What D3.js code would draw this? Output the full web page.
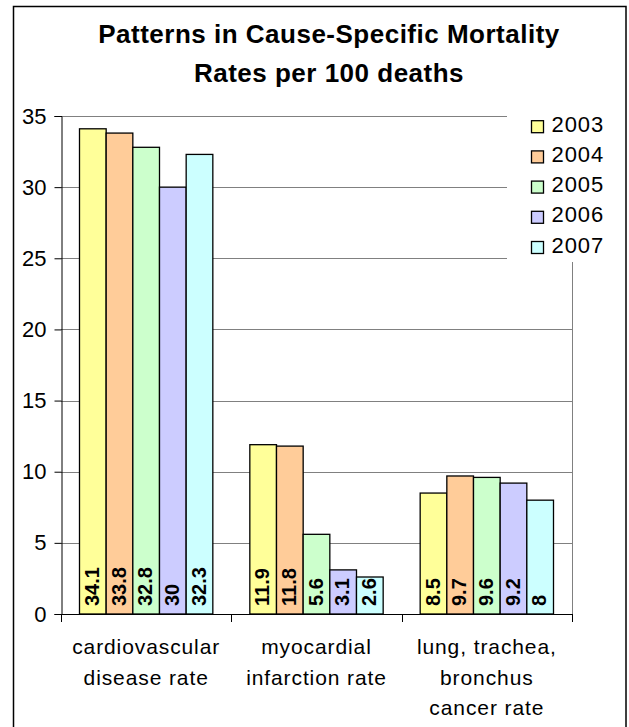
<!DOCTYPE html>
<html>
<head>
<meta charset="utf-8">
<script src="https://cdn.jsdelivr.net/npm/d3@7"></script>
<style>
html,body{margin:0;padding:0;background:#fff;}
svg{display:block;font-family:Arial,"Liberation Sans",sans-serif;}
</style>
</head>
<body>
<svg id="chart" width="629" height="727"></svg>
<script>
const titleLines = ["Patterns in Cause-Specific Mortality", "Rates per 100 deaths"];
const categories = [
  ["cardiovascular", "disease rate"],
  ["myocardial", "infarction rate"],
  ["lung, trachea,", "bronchus", "cancer rate"]
];
const years = ["2003", "2004", "2005", "2006", "2007"];
const colors = ["#FFFF99", "#FFCC99", "#CCFFCC", "#CCCCFF", "#CCFFFF"];
const v2003 = [34.1, 11.9, 8.5];
const v2004 = [33.8, 11.8, 9.7];
const v2005 = [32.8, 5.6, 9.6];
const v2006 = [30, 3.1, 9.2];
const v2007 = [32.3, 2.6, 8];
const yTicks = [0, 5, 10, 15, 20, 25, 30, 35];

const series = [v2003, v2004, v2005, v2006, v2007];
const svg = d3.select("#chart");

// outer frame
svg.append("rect").attr("x", 13.5).attr("y", 6.5).attr("width", 612.5).attr("height", 760)
  .attr("fill", "#fff").attr("stroke", "#000").attr("stroke-width", 1.5);

// title
svg.append("g").selectAll("text").data(titleLines).join("text")
  .attr("x", 329).attr("y", (d, i) => 43 + i * 38.5)
  .attr("text-anchor", "middle").attr("font-weight", "bold").attr("font-size", 26)
  .attr("letter-spacing", 0.5)
  .attr("fill", "#000").text(d => d);

const L = 61, R = 572, T = 116, B = 614;
const x = d3.scaleBand().domain(d3.range(categories.length)).range([L, R]).padding(0);
const off = 18.5;
const xi = d3.scaleBand().domain(d3.range(years.length)).range([off, x.bandwidth() - off]).padding(0);
const y = d3.scaleLinear().domain([0, 35]).range([B, T]);

// gridlines
svg.append("g").selectAll("line").data(yTicks.filter(t => t > 0)).join("line")
  .attr("x1", L).attr("x2", R).attr("y1", d => Math.round(y(d)) + 0.5).attr("y2", d => Math.round(y(d)) + 0.5)
  .attr("stroke", "#808080").attr("stroke-width", 1);
// plot right border
svg.append("line").attr("x1", R + 0.5).attr("x2", R + 0.5).attr("y1", T).attr("y2", B)
  .attr("stroke", "#808080").attr("stroke-width", 1);

// bars
const groups = svg.append("g").selectAll("g").data(categories).join("g")
  .attr("transform", (d, i) => `translate(${x(i)},0)`);
groups.each(function (c, ci) {
  const g = d3.select(this);
  series.forEach((s, si) => {
    g.append("rect")
      .attr("x", xi(si)).attr("y", y(s[ci]))
      .attr("width", xi.bandwidth()).attr("height", B - y(s[ci]))
      .attr("fill", colors[si]).attr("stroke", "#000").attr("stroke-width", 1.3);
  });
});

// data labels
groups.each(function (c, ci) {
  const g = d3.select(this);
  series.forEach((s, si) => {
    const cx = xi(si) + xi.bandwidth() / 2;
    g.append("text")
      .attr("transform", `translate(${cx + 6},${B - 8}) rotate(-90)`)
      .attr("text-anchor", "start").attr("font-weight", "bold").attr("font-size", 20)
      .attr("fill", "#000").text(String(s[ci]));
  });
});

// y axis
const yAxis = svg.append("g").attr("transform", `translate(${L + 0.5},0)`)
  .call(d3.axisLeft(y).tickValues(yTicks).tickSize(7).tickPadding(8).tickFormat(d3.format("d")));
yAxis.select(".domain").attr("stroke", "#000").attr("stroke-width", 1);
yAxis.selectAll(".tick line").attr("stroke", "#000");
yAxis.selectAll(".tick text").attr("font-size", 22).attr("font-family", "Arial, 'Liberation Sans', sans-serif").attr("fill", "#000");

// x axis
svg.append("line").attr("x1", L).attr("x2", R + 1).attr("y1", B + 0.5).attr("y2", B + 0.5)
  .attr("stroke", "#000").attr("stroke-width", 1);
svg.append("g").selectAll("line").data(d3.range(categories.length + 1)).join("line")
  .attr("x1", d => Math.round(L + d * x.bandwidth()) + 0.5).attr("x2", d => Math.round(L + d * x.bandwidth()) + 0.5)
  .attr("y1", B).attr("y2", B + 8).attr("stroke", "#000");

// category labels
groups.each(function (c, ci) {
  d3.select(this).selectAll("text.cat").data(c).join("text").attr("class", "cat")
    .attr("x", x.bandwidth() / 2).attr("y", (d, i) => 654 + i * 30.5)
    .attr("text-anchor", "middle").attr("font-size", 21).attr("letter-spacing", 0.9)
    .attr("fill", "#000").text(d => d);
});

// legend
const lg = svg.append("g");
lg.append("rect").attr("x", 507).attr("y", 104).attr("width", 114).attr("height", 158).attr("fill", "#fff");
const items = lg.selectAll("g").data(years).join("g")
  .attr("transform", (d, i) => `translate(531,${126.7 + i * 30.2})`);
items.append("rect").attr("x", 0.5).attr("y", -6).attr("width", 12).attr("height", 12)
  .attr("fill", (d, i) => colors[i]).attr("stroke", "#000").attr("stroke-width", 1.3);
items.append("text").attr("x", 20.5).attr("y", 5).attr("font-size", 22).attr("letter-spacing", 0.9)
  .attr("fill", "#000").text(d => d);
</script>
</body>
</html>
